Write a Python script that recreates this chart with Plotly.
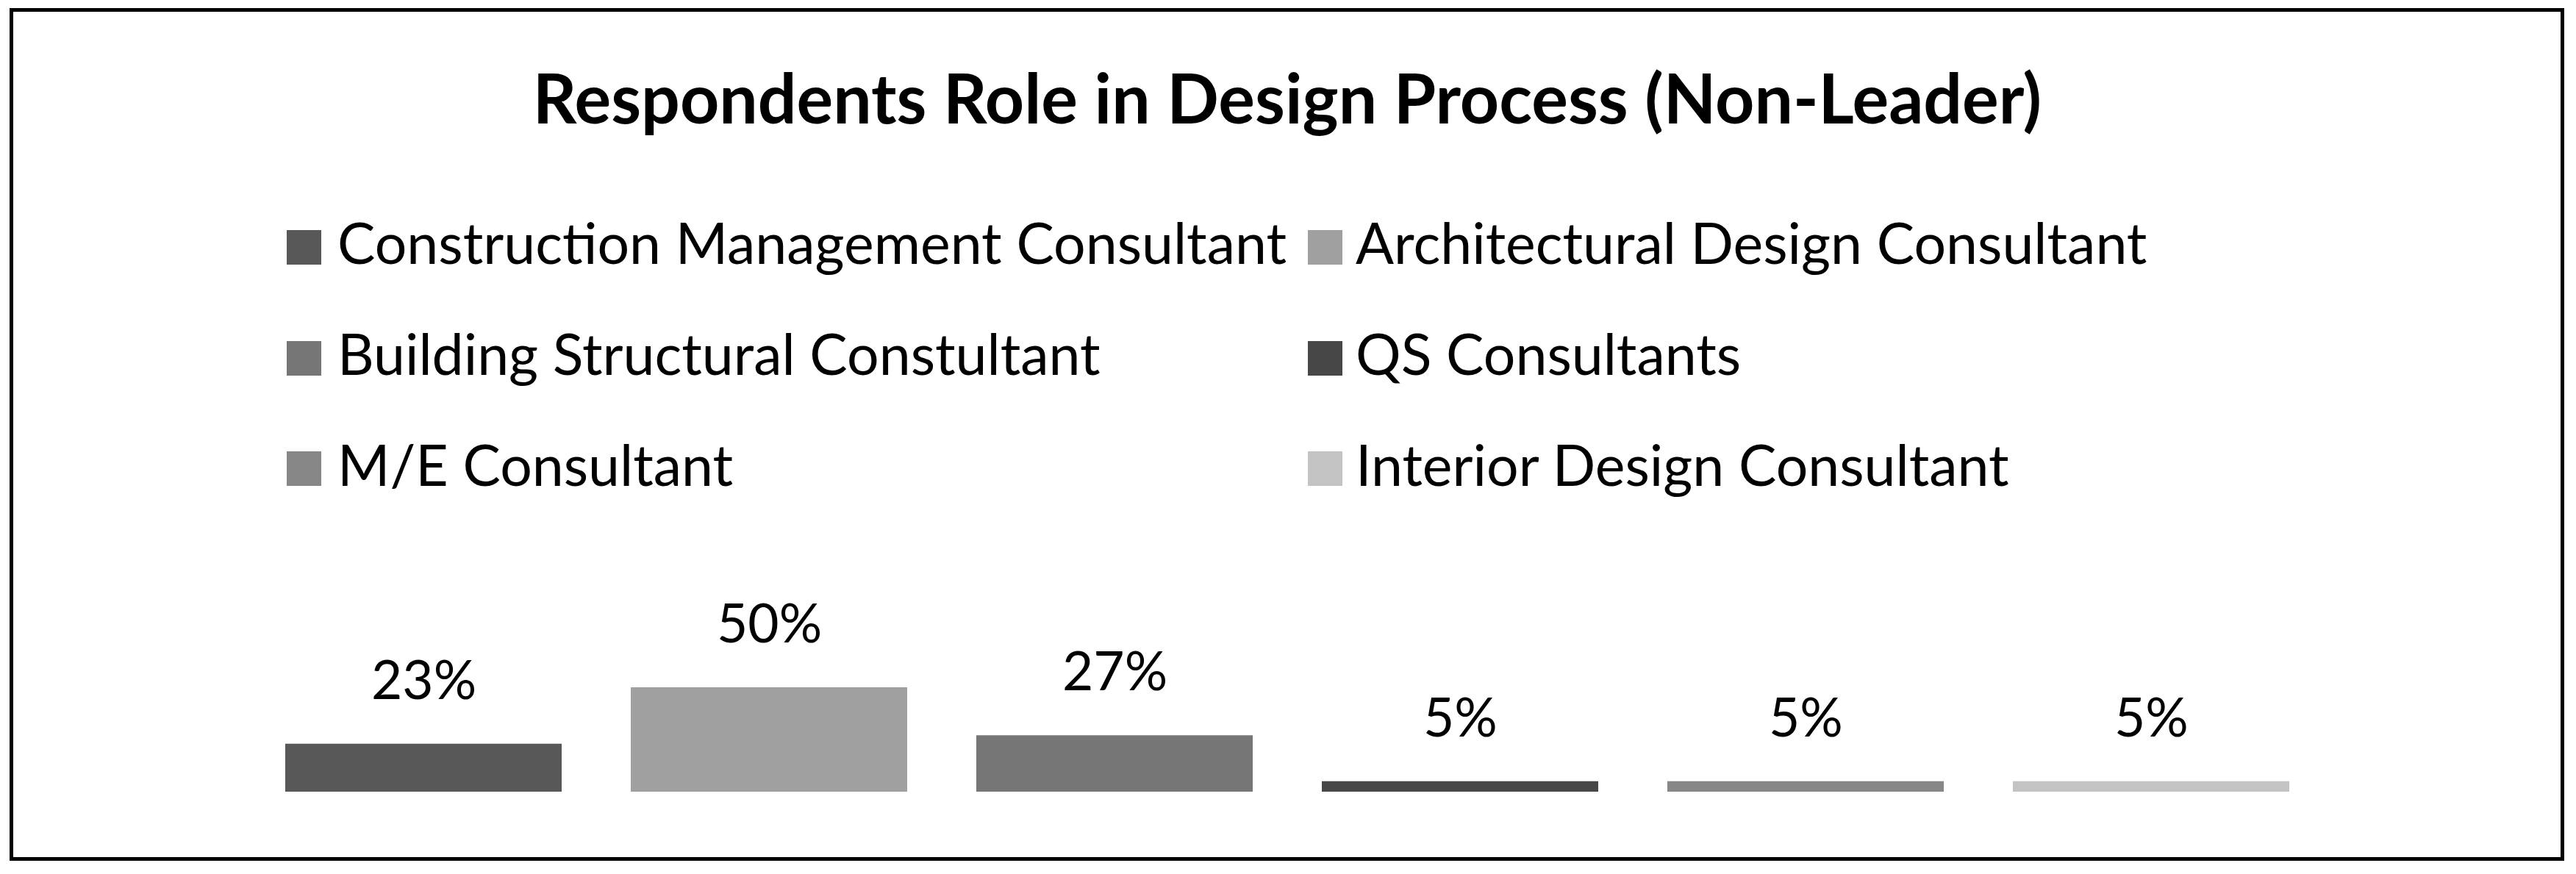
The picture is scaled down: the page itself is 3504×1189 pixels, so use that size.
import plotly.graph_objects as go

# ---- data ----
categories = [
    "Construction Management Consultant",
    "Architectural Design Consultant",
    "Building Structural Constultant",
    "QS Consultants",
    "M/E Consultant",
    "Interior Design Consultant",
]
values = [23, 50, 27, 5, 5, 5]
labels = ["23%", "50%", "27%", "5%", "5%", "5%"]
colors = ["#585858", "#a0a0a0", "#767676", "#474747", "#878787", "#c3c3c3"]
title_text = "Respondents Role in Design Process (Non-Leader)"

# ---- geometry (pixels in the target picture) ----
OFF = 8                      # default page body margin
W, H = 3504 - OFF, 1189 - OFF
PL, PR = 341, 3161          # plot area left/right
PT, PB = 720, 1077          # plot area top/bottom
PX_PER_UNIT = 2.84
FONT = "Lato"
LEG_SIZE = 77
LBL_SIZE = 73
TITLE_SIZE = 93

def px_x(px):
    return (px - PL) / (PR - PL)

def px_y(py):
    return (PB - py) / (PB - PT)

fig = go.Figure()
for i, (cat, v, c) in enumerate(zip(categories, values, colors)):
    fig.add_trace(go.Bar(
        x=[i], y=[v], name=cat, marker=dict(color=c, line=dict(width=0)),
        showlegend=False, hoverinfo="skip",
    ))

annotations = []
# data labels
for i, (v, t) in enumerate(zip(values, labels)):
    annotations.append(dict(
        x=i, y=v, xref="x", yref="y", text=t, showarrow=False,
        xanchor="center", yanchor="bottom", yshift=43,
        font=dict(family=FONT, size=LBL_SIZE, color="#000000"),
    ))

# custom legend (2 columns, row-major)
col_swatch_x = [390, 1779]
col_text_x = [457, 1842]
row_top = [313, 464, 614]
row_baseline = [359, 510, 661]
SW = 47
shapes = []
for k, (cat, c) in enumerate(zip(categories, colors)):
    r, col = divmod(k, 2)
    x0 = col_swatch_x[col]
    y0 = row_top[r]
    shapes.append(dict(
        type="rect", xref="paper", yref="paper",
        x0=px_x(x0), x1=px_x(x0 + SW), y0=px_y(y0 + SW), y1=px_y(y0),
        fillcolor=c, line=dict(width=0), layer="above",
    ))
    annotations.append(dict(
        x=px_x(col_text_x[col]), y=px_y(row_baseline[r] - 0.387 * LEG_SIZE),
        xref="paper", yref="paper", text=cat, showarrow=False,
        xanchor="left", yanchor="middle",
        font=dict(family=FONT, size=LEG_SIZE, color="#000000"),
    ))

# outer border
shapes.append(dict(
    type="rect", xref="paper", yref="paper",
    x0=px_x(15.5), x1=px_x(3485.5), y0=px_y(1168.5), y1=px_y(13.5),
    line=dict(color="#000000", width=5), fillcolor="rgba(0,0,0,0)",
))

fig.update_layout(
    width=W, height=H,
    margin=dict(l=PL - OFF, r=W - (PR - OFF), t=PT - OFF, b=H - (PB - OFF), pad=0),
    paper_bgcolor="#ffffff", plot_bgcolor="#ffffff",
    barmode="overlay", bargap=0.2,
    title=dict(
        text="<b>" + title_text + "</b>",
        x=(1751 - OFF) / W, xanchor="center", xref="container",
        y=1 - (171 - 0.387 * TITLE_SIZE - OFF) / H, yanchor="middle", yref="container",
        font=dict(family=FONT, size=TITLE_SIZE, color="#000000"),
    ),
    xaxis=dict(range=[-0.5, len(categories) - 0.5], visible=False, fixedrange=True),
    yaxis=dict(range=[0, (PB - PT) / PX_PER_UNIT], visible=False, fixedrange=True),
    showlegend=False,
    annotations=annotations,
    shapes=shapes,
)

fig.write_html("out.html")
